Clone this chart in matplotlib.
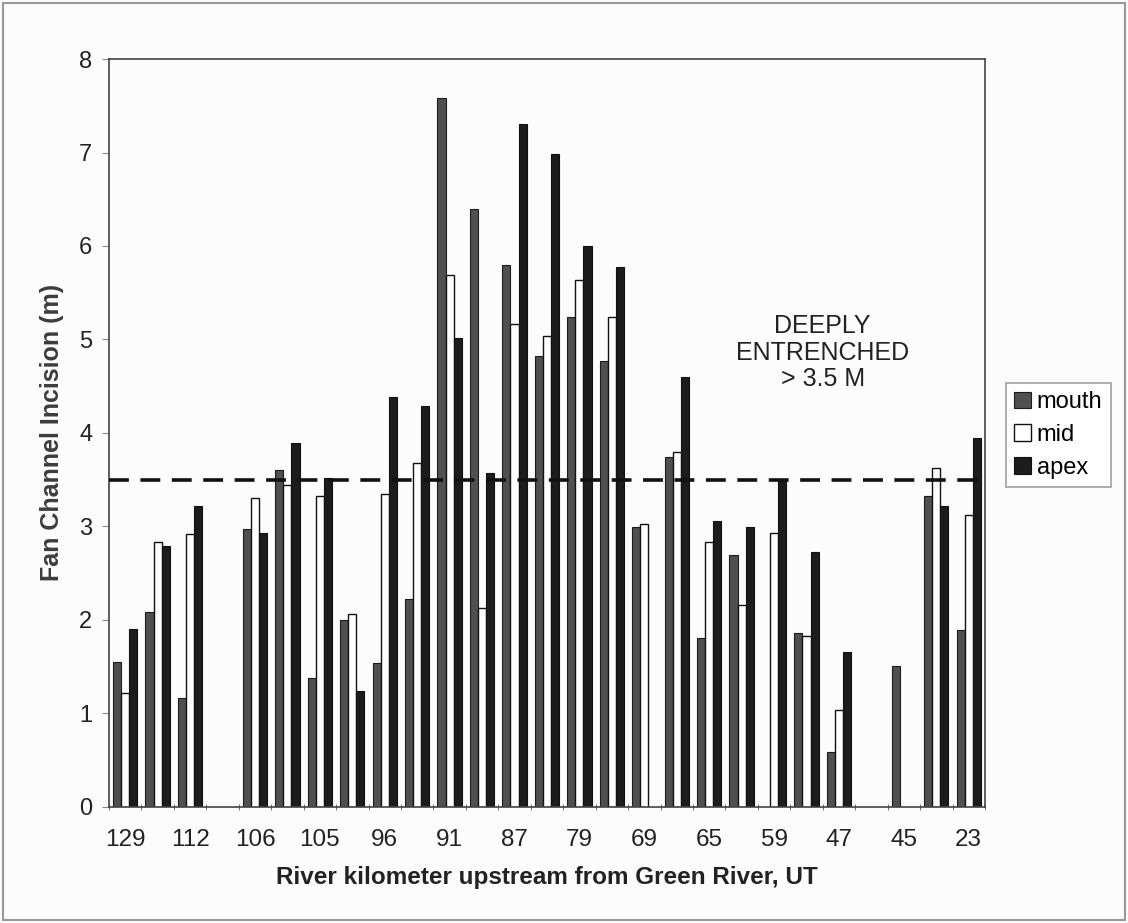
import numpy as np
import matplotlib
matplotlib.use('Agg')
import matplotlib.pyplot as plt
from matplotlib.patches import Rectangle

plt.rcParams['font.family'] = ['Liberation Sans', 'DejaVu Sans']

nan = np.nan

# river km of the fans; only every other site gets a label on the axis
site_labels = ['129', '112', '106', '105', '96', '91', '87', '79', '69', '65', '59', '47', '45', '23']

# channel incision depth (m) at mouth / mid / apex of each fan, 27 fans
mouth = [1.55, 2.08, 1.16, nan, 2.97, 3.60, 1.38, 2.00, 1.54, 2.22,
         7.58, 6.40, 5.80, 4.82, 5.24, 4.77, 2.99, 3.74, 1.80, 2.69,
         nan, 1.86, 0.58, nan, 1.51, 3.32, 1.89]
mid = [1.22, 2.83, 2.92, nan, 3.30, 3.44, 3.33, 2.06, 3.35, 3.68,
       5.69, 2.13, 5.16, 5.04, 5.64, 5.24, 3.03, 3.80, 2.83, 2.16,
       2.93, 1.83, 1.04, nan, nan, 3.62, 3.12]
apex = [1.90, 2.79, 3.22, nan, 2.93, 3.89, 3.52, 1.24, 4.38, 4.29,
        5.01, 3.57, 7.31, 6.98, 6.00, 5.78, nan, 4.60, 3.06, 2.99,
        3.50, 2.73, 1.66, nan, nan, 3.22, 3.94]

threshold = 3.5  # deeply entrenched cutoff


fig = plt.figure(figsize=(11.28, 9.23), dpi=100, facecolor='#fcfcfc')
ax = fig.add_axes([0.0966, 0.126, 0.7766, 0.810])
ax.set_facecolor('#fcfcfc')

x = np.arange(len(mouth))
w = 0.25
b1 = ax.bar(x - w, mouth, w, color='#505050', edgecolor='#1c1c1c', linewidth=0.8, label='mouth')
b2 = ax.bar(x, mid, w, color='white', edgecolor='#111111', linewidth=1.0, label='mid')
b3 = ax.bar(x + w, apex, w, color='#1c1c1c', edgecolor='#111111', linewidth=0.8, label='apex')

ax.axhline(threshold, color='#111111', linewidth=2.6, dashes=(5.5, 3.2), zorder=5)

ax.text(21.5, 4.86, 'DEEPLY\nENTRENCHED\n> 3.5 M', ha='center', va='center',
        fontsize=18, color='#222222', linespacing=1.15)

ax.set_xlim(-0.5, len(mouth) - 0.5)
ax.set_ylim(0, 8)
ax.set_yticks(range(0, 9))

# labels on every second site, tick marks between sites
ax.set_xticks(x[::2])
ax.set_xticklabels(site_labels)
ax.set_xticks(np.arange(-0.5, len(mouth)), minor=True)
ax.tick_params(axis='x', which='major', length=0, pad=16, labelsize=17.5, labelcolor='#222222')
ax.tick_params(axis='x', which='minor', length=5, color='#555555', direction='inout')
ax.tick_params(axis='y', length=5, color='#888888', pad=7, labelsize=17, labelcolor='#222222')

for s in ax.spines.values():
    s.set_color('#444444')
    s.set_linewidth(1.2)

ax.set_xlabel('River kilometer upstream from Green River, UT', fontsize=17.5,
              fontweight='bold', color='#222222', labelpad=11)
ax.set_ylabel('Fan Channel Incision (m)', fontsize=18, fontweight='bold',
              color='#3c3c3c', labelpad=11)

leg = fig.legend(handles=[b1, b2, b3], loc='upper left',
                 bbox_to_anchor=(1006 / 1128, 1 - 383 / 923), fontsize=17,
                 frameon=True, fancybox=False, edgecolor='#888888',
                 handlelength=0.7, handleheight=0.7, handletextpad=0.25,
                 borderpad=0.35, labelspacing=0.45, borderaxespad=0)
leg.get_frame().set_linewidth(1.2)

# thin frame around the whole chart
fig.patches.append(Rectangle((0.003, 0.003), 0.994, 0.994, transform=fig.transFigure,
                             fill=False, edgecolor='#999999', linewidth=1.5))

fig.savefig('out.png', dpi=100, facecolor=fig.get_facecolor())
